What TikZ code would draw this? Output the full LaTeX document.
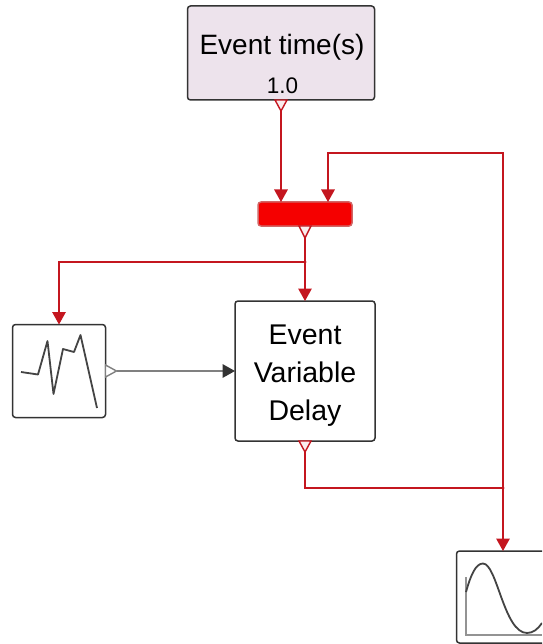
\documentclass[tikz,border=0pt]{standalone}
\usepackage{fontspec}
\setmainfont{Liberation Sans}
\usetikzlibrary{arrows.meta,calc}
\definecolor{wirered}{HTML}{C4161F}
\definecolor{boxline}{HTML}{333333}
\definecolor{traceline}{HTML}{444444}
\definecolor{evtfill}{HTML}{EDE3EC}
\definecolor{redfill}{HTML}{F50000}
\tikzset{
  block/.style={draw=boxline,line width=1.5pt,rounded corners=3pt,fill=white,inner sep=0pt,outer sep=0pt,align=center},
  wire/.style={draw=wirered,line width=1.4pt},
  sig/.style={wire,-{Triangle[length=12.5pt,width=13.5pt]}},
  graysig/.style={draw=gray,line width=1.8pt,-{Triangle[length=12.5pt,width=13.5pt,color=boxline]}},
  port/.style={draw=wirered,line width=1.4pt,fill=wirered!8,line join=miter},
  grayport/.style={draw=gray,line width=1.4pt,fill=white},
  dotj/.style={circle,fill=wirered,inner sep=0pt,minimum size=3pt},
  trace/.style={draw=traceline,line width=1.8pt,line join=round},
}
\begin{document}
\begin{tikzpicture}[x=1pt,y=-1pt]
\useasboundingbox (0,0) rectangle (542,644);
\clip (0,0) rectangle (542,644);
% blocks
\node[block,fill=evtfill,minimum width=187pt,minimum height=94pt] (evt) at (281,53) {};
\node[font=\fontsize{28}{32}\selectfont] (evtlabel) at (282,47) {Event time(s)};
\node[font=\fontsize{22.5}{25}\selectfont] (evtvalue) at (282.5,85.5) {1.0};
\node[block,draw=red!70!black!60,fill=redfill,minimum width=94pt,minimum height=24pt] (sum) at (305,214) {};
\node[block,minimum width=140pt,minimum height=140pt] (delay) at (305,371) {};
\node[align=center,font=\fontsize{28.5}{38}\selectfont] (delaylabel) at (305,375.5) {Event\\Variable\\Delay};
\node[block,minimum width=93pt,minimum height=93pt] (rnd) at (59,371) {};
\node[block,minimum width=93pt,minimum height=92pt] (scope) at (503,597) {};
% junctions
\coordinate (sumin) at (328,202);
\node[dotj] (ja) at (305,262) {};
\node[dotj] (jb) at (503,488) {};
% output ports
\draw[port] ($(evt.south)+(-6,0)$) -- ++(6,11) -- ++(6,-11) -- cycle;
\draw[port] ($(sum.south)+(-6,0)$) -- ++(6,12) -- ++(6,-12) -- cycle;
\draw[port] ($(delay.south)+(-6,0)$) -- ++(6,11) -- ++(6,-11) -- cycle;
\draw[grayport] ($(rnd.east)+(0,-6)$) -- ++(11,6) -- ++(-11,6) -- cycle;
% connectors
\draw[sig] ($(evt.south)+(0,11)$) -- (evt.south |- sum.north);
\draw[wire] ($(sum.south)+(0,12)$) -- (ja.center);
\draw[sig] (ja.center) -- (delay.north);
\draw[sig] (ja.center) -| (rnd.north);
\draw[graysig] ($(rnd.east)+(11,0)$) -- (rnd.east -| delay.west);
\draw[wire] ($(delay.south)+(0,11)$) |- (jb.center);
\draw[sig] (jb.center) -- (jb.center |- scope.north);
\draw[sig] (jb.center) -- (503,153) -- (328,153) -- (sumin);
% random signal icon
\draw[trace] (21,372) -- (38,374.5) -- (47.5,341) -- (53.5,394) -- (63,349) -- (74,352) -- (80.5,335) -- (97,408);
% scope icon
\draw[draw=gray!85,line width=1.8pt] (466,577) -- (466,635) -- (542,635);
\draw[trace] (466,592) .. controls (471,574) and (476,563.5) .. (483,563.5)
  .. controls (497,563.5) and (504,633) .. (527,633) .. controls (533,633) and (538,629) .. (542,623);
\end{tikzpicture}
\end{document}
